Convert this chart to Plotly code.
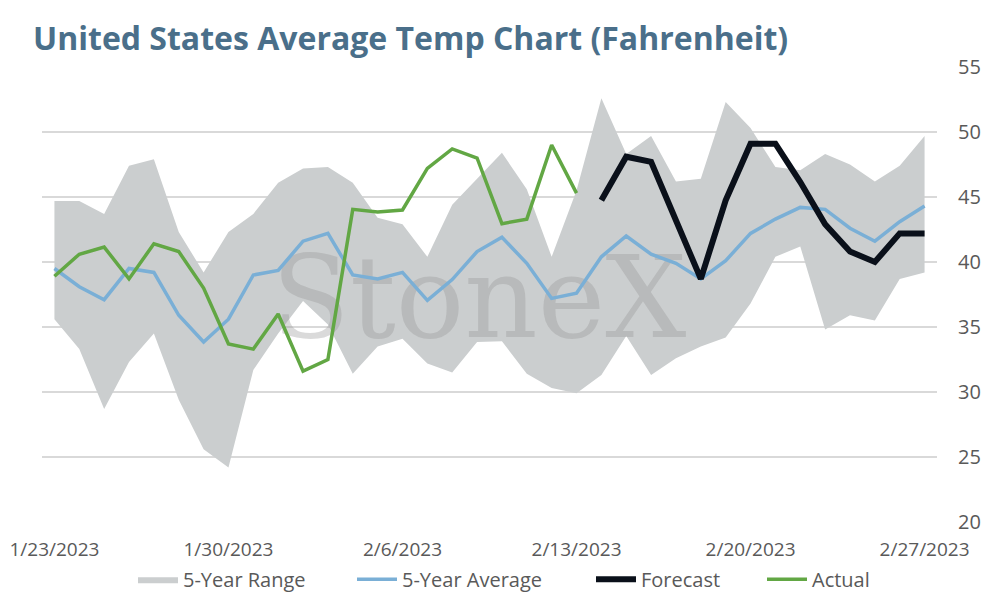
import pandas as pd
import plotly.graph_objects as go

# daily dates 1/23/2023 .. 2/27/2023
dates = pd.date_range("2023-01-23", "2023-02-27", freq="D")

range_low = [35.6, 33.3, 28.7, 32.3, 34.5, 29.4, 25.6, 24.2, 31.7, 34.5, 37.0, 35.2,
             31.4, 33.5, 34.1, 32.2, 31.5, 33.85, 33.9, 31.4, 30.3, 29.9, 31.3, 34.3,
             31.3, 32.6, 33.5, 34.2, 36.8, 40.4, 41.2, 34.8, 35.9, 35.5, 38.7, 39.2]
range_high = [44.7, 44.7, 43.7, 47.4, 47.9, 42.3, 39.2, 42.3, 43.7, 46.1, 47.2, 47.3,
              46.1, 43.4, 42.9, 40.4, 44.4, 46.4, 48.4, 45.6, 40.4, 45.5, 52.6, 48.3,
              49.7, 46.2, 46.4, 52.3, 50.3, 47.3, 47.05, 48.3, 47.5, 46.2, 47.4, 49.7]
avg_5yr = [39.5, 38.1, 37.1, 39.5, 39.2, 35.9, 33.85, 35.6, 39.0, 39.35, 41.6, 42.2,
           39.0, 38.7, 39.2, 37.05, 38.65, 40.8, 41.9, 39.9, 37.2, 37.6, 40.4, 42.0,
           40.6, 39.9, 38.7, 40.1, 42.2, 43.3, 44.2, 44.05, 42.6, 41.6, 43.1, 44.3]
actual = [38.9, 40.6, 41.15, 38.7, 41.4, 40.8, 38.0, 33.7, 33.3, 36.0, 31.6, 32.5,
          44.05, 43.85, 44.0, 47.2, 48.7, 48.0, 42.95, 43.3, 49.0, 45.3]
forecast = [44.75, 48.1, 47.7, 43.2, 38.7, 44.75, 49.1, 49.1, 46.15, 42.9, 40.8, 40.0,
            42.2, 42.2]

actual_dates = dates[:len(actual)]
forecast_dates = dates[len(dates) - len(forecast):]

font_family = "Open Sans, Lato, sans-serif"

fig = go.Figure()

# 5-year range band
fig.add_trace(go.Scatter(x=dates, y=range_low, mode="lines", line=dict(width=0),
                         showlegend=False, hoverinfo="skip"))
fig.add_trace(go.Scatter(x=dates, y=range_high, mode="lines", line=dict(width=0),
                         fill="tonexty", fillcolor="#cbcecf", name="5-Year Range",
                         legend="legend"))

# watermark sits above the band but under the lines
fig.add_trace(go.Scatter(x=[pd.Timestamp("2023-02-09 02:00")], y=[36.4], mode="text",
                         text=["StoneX"], textposition="middle center",
                         textfont=dict(family="DejaVu Serif, serif", size=114,
                                       color="rgba(150,150,150,0.35)"),
                         showlegend=False, hoverinfo="skip"))

fig.add_trace(go.Scatter(x=dates, y=avg_5yr, mode="lines", name="5-Year Average",
                         line=dict(color="#7aafd6", width=3.5), legend="legend2"))
fig.add_trace(go.Scatter(x=forecast_dates, y=forecast, mode="lines", name="Forecast",
                         line=dict(color="#0a101a", width=6), legend="legend3"))
fig.add_trace(go.Scatter(x=actual_dates, y=actual, mode="lines", name="Actual",
                         line=dict(color="#62a744", width=3.5), legend="legend4"))

legend_style = dict(orientation="h", xanchor="left", y=-0.126, yanchor="middle",
                    font=dict(size=20, color="#595959"), itemwidth=40,
                    bgcolor="rgba(0,0,0,0)")

fig.update_layout(
    width=994, height=600,
    margin=dict(l=42, r=57, t=67, b=78, autoexpand=False),
    paper_bgcolor="white", plot_bgcolor="white",
    font=dict(family=font_family, color="#595959", size=18),
    title=dict(text="United States Average Temp Chart (Fahrenheit)",
               font=dict(family=font_family, size=32, color="#4a6f8a", weight="bold"),
               x=33 / 994, xanchor="left", xref="container",
               y=1 - 39 / 600, yanchor="middle"),
    xaxis=dict(type="date", automargin=False,
               range=[pd.Timestamp("2023-01-22 12:00"), pd.Timestamp("2023-02-27 12:00")],
               tick0="2023-01-23", dtick=7 * 24 * 3600 * 1000, tickformat="%-m/%-d/%Y",
               showgrid=False, zeroline=False, showline=False, ticks="",
               ticklabelstandoff=14,
               tickfont=dict(size=19, color="#595959")),
    yaxis=dict(side="right", range=[20, 55], dtick=5, showgrid=True, automargin=False,
               gridcolor="#d9d9d9", gridwidth=2, zeroline=False, showline=False,
               ticks="", ticklabelstandoff=20,
               tickfont=dict(size=20, color="#595959")),
    legend=dict(legend_style, x=(133 - 42) / 895),
    legend2=dict(legend_style, x=(352 - 42) / 895),
    legend3=dict(legend_style, x=(591 - 42) / 895),
    legend4=dict(legend_style, x=(762 - 42) / 895),
    showlegend=True,
)

# drop the default page margin so the figure sits at the window's corner
fig.write_html("out.html", config={"displayModeBar": False},
               post_script="document.body.style.margin='0';")
